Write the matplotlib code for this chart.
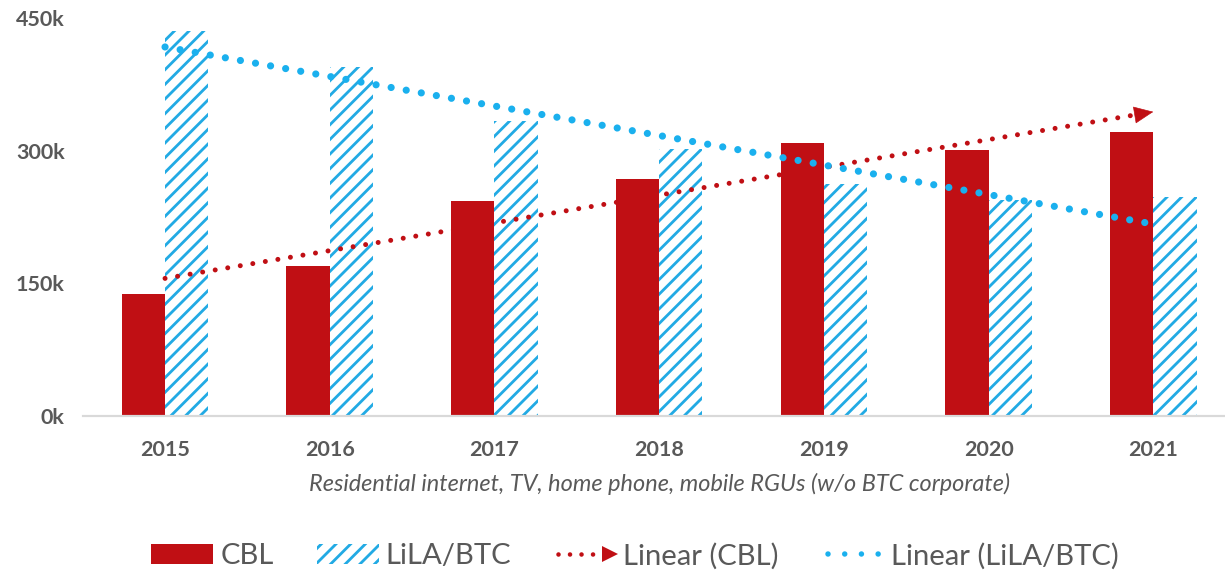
import numpy as np
import matplotlib
matplotlib.use("Agg")
import matplotlib.pyplot as plt
from matplotlib.patches import Patch, FancyArrowPatch
from matplotlib.lines import Line2D
from matplotlib.legend_handler import HandlerBase

# ---------------- data (thousands of RGUs) ----------------
years = ["2015", "2016", "2017", "2018", "2019", "2020", "2021"]
cbl = [137.5, 169.5, 243.0, 268.6, 309.0, 301.0, 321.0]
lila = [436.0, 394.7, 333.7, 301.7, 263.0, 244.5, 248.0]
yticks = [0, 150, 300, 450]
series_names = ["CBL", "LiLA/BTC", "Linear (CBL)", "Linear (LiLA/BTC)"]
xlabel_text = "Residential internet, TV, home phone, mobile RGUs (w/o BTC corporate)"

# ---------------- style ----------------
RED = "#C00F14"
BLUE = "#22AAE4"
DOT_BLUE = "#1AB0EE"
GRAY = "#595959"
DPI = 88


def pt(px):
    return px * 72.0 / DPI


plt.rcParams["font.family"] = ["Lato", "DejaVu Sans"]
plt.rcParams["hatch.linewidth"] = pt(2.8)
plt.rcParams["lines.scale_dashes"] = False

fig = plt.figure(figsize=(1225 / DPI, 575 / DPI), dpi=DPI)
ax = fig.add_axes([82.7 / 1225, 1 - 416 / 575, 1152.9 / 1225, (416 - 18.3) / 575])

x = np.arange(len(years))
w = 0.263
ax.bar(x - w / 2, cbl, width=w, color=RED, linewidth=0, zorder=2)
ax.bar(x + w / 2, lila, width=w, facecolor="white", edgecolor=BLUE, hatch="//",
       linewidth=0, zorder=2)

# linear trendlines
red_ls = (0, (0.01, pt(12.7)))
blue_ls = (0, (0.01, pt(15.3)))
pc = np.polyfit(x, cbl, 1)
pl = np.polyfit(x, lila, 1)
ax.plot(x, np.polyval(pc, x), color=RED, lw=pt(5.0), linestyle=red_ls,
        dash_capstyle="round", zorder=3)
ax.plot(x, np.polyval(pl, x), color=DOT_BLUE, lw=pt(7.2), linestyle=blue_ls,
        dash_capstyle="round", zorder=3)
xe0, xe1 = x[-1] - 0.08, x[-1]
arrow = FancyArrowPatch((xe0, np.polyval(pc, xe0)), (xe1, np.polyval(pc, xe1)),
                        arrowstyle=f"-|>,head_length={pt(18):.2f},head_width={pt(8):.2f}",
                        mutation_scale=1, color=RED, lw=0.5,
                        shrinkA=0, shrinkB=0, zorder=4)
ax.add_patch(arrow)

ax.set_xlim(-0.5, 6.5)
ax.set_ylim(0, 450)
ax.set_xticks(x)
ax.set_xticklabels(years)
ax.set_yticks(yticks)
ax.set_yticklabels([f"{v}k" for v in yticks])
ax.tick_params(axis="both", length=0, labelsize=pt(21.5), labelcolor=GRAY)
ax.tick_params(axis="x", pad=pt(23.6))
ax.tick_params(axis="y", pad=pt(18))
for lab in ax.get_xticklabels() + ax.get_yticklabels():
    lab.set_fontweight("bold")
for s in ["top", "right", "left"]:
    ax.spines[s].set_visible(False)
ax.spines["bottom"].set_color("#D9D9D9")
ax.spines["bottom"].set_linewidth(pt(2.2))
ax.set_xlabel(xlabel_text, fontsize=pt(23.5), style="italic", color=GRAY,
              labelpad=pt(13))


class ArrowLineHandler(HandlerBase):
    def create_artists(self, legend, orig_handle, xdescent, ydescent, width,
                       height, fontsize, trans):
        y = height / 2 - ydescent
        x0 = -xdescent
        line = Line2D([x0 + 3, x0 + width * 0.76], [y, y], color=RED, lw=pt(4.6),
                      linestyle=(0, (0.01, pt(11.5))), dash_capstyle="round")
        head = Line2D([x0 + width * 0.9], [y], marker=">", markersize=pt(16),
                      color=RED, linestyle="None", markeredgewidth=0)
        line.set_transform(trans)
        head.set_transform(trans)
        return [line, head]


class DotLineHandler(HandlerBase):
    def create_artists(self, legend, orig_handle, xdescent, ydescent, width,
                       height, fontsize, trans):
        y = height / 2 - ydescent
        x0 = -xdescent
        line = Line2D([x0 + 5, x0 + 57], [y, y], color=DOT_BLUE, lw=pt(5.5),
                      linestyle=(0, (0.01, pt(16.7))), dash_capstyle="round")
        line.set_transform(trans)
        return [line]


h_cbl = Patch(facecolor=RED, linewidth=0)
h_lila = Patch(facecolor="white", edgecolor=BLUE, hatch="//", linewidth=0)
h_tc = Line2D([], [], color=RED)
h_tl = Line2D([], [], color=DOT_BLUE)
LPX = 29.2
fig.legend([h_cbl, h_lila, h_tc, h_tl], series_names, loc="center",
           bbox_to_anchor=(635 / 1225, 1 - 556 / 575), ncol=4, frameon=False,
           fontsize=pt(LPX), labelcolor=GRAY,
           handlelength=62 / LPX, handleheight=0.65,
           handletextpad=7 / LPX,
           columnspacing=43 / LPX,
           handler_map={h_tc: ArrowLineHandler(), h_tl: DotLineHandler()})

fig.savefig("out.png", dpi=DPI, facecolor="white")
